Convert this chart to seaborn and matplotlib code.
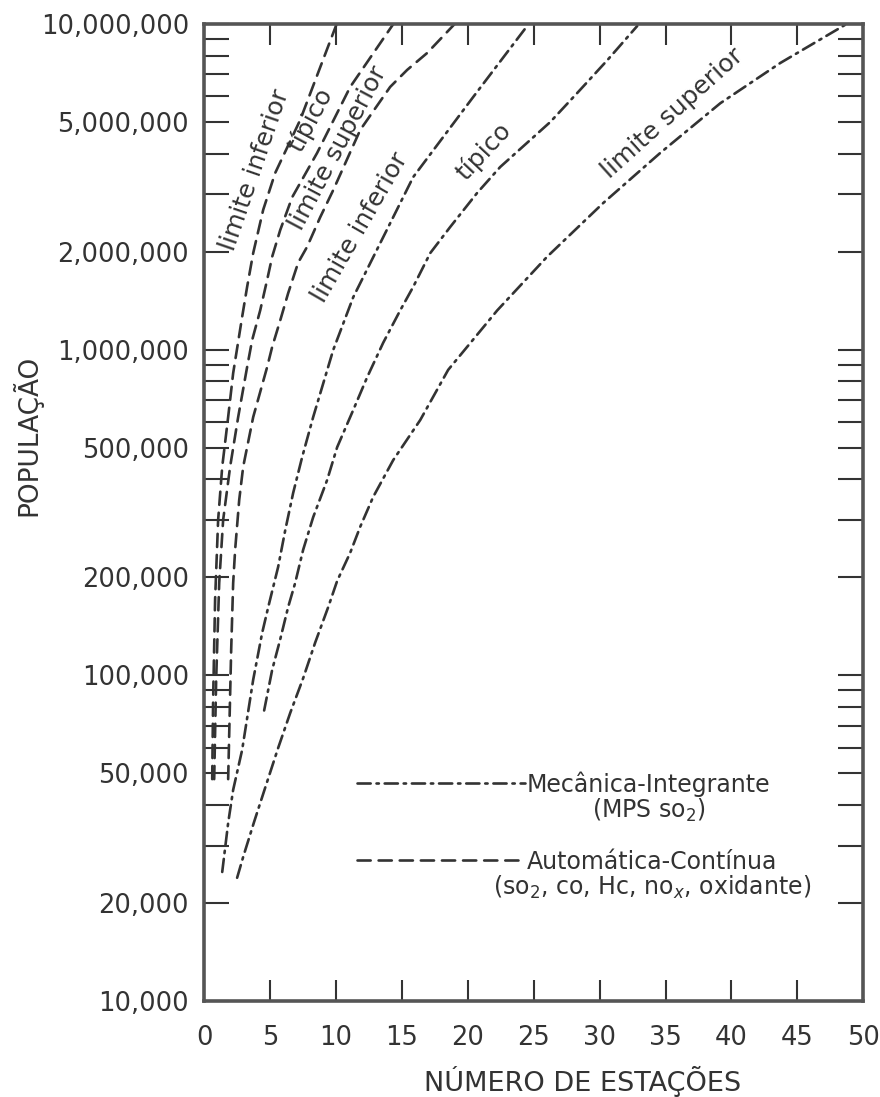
import matplotlib
matplotlib.use("Agg")
import matplotlib.pyplot as plt
import matplotlib.ticker as mticker
from matplotlib.lines import Line2D
import pandas as pd
import seaborn as sns

# Automática-Contínua (tracejado)
auto_inf_n = [0.61, 0.68, 0.83, 1.06, 1.37, 1.82, 2.20, 2.88, 3.26, 3.72, 4.48, 5.39, 7.28, 10.05]
auto_inf_pop = [48000, 84000, 171000, 300000, 437000, 621000, 847000, 1260000, 1560000,
                1980000, 2690000, 3490000, 5070000, 10000000]
auto_tip_n = [0.76, 0.91, 1.14, 1.44, 1.97, 2.58, 3.26, 3.64, 4.25, 4.78, 5.16, 5.77, 6.68,
              8.57, 11.08, 14.35]
auto_tip_pop = [48000, 97000, 192000, 300000, 437000, 621000, 885000, 1070000, 1320000,
                1640000, 1930000, 2330000, 2940000, 4020000, 6410000, 10000000]
auto_sup_n = [1.82, 2.05, 2.20, 2.35, 2.66, 2.96, 3.72, 4.78, 5.16, 5.77, 6.37, 7.13, 7.81,
              8.80, 9.79, 11.84, 14.11, 15.40, 16.92, 19.0]
auto_sup_pop = [48000, 120000, 192000, 243000, 346000, 437000, 621000, 885000, 1020000,
                1230000, 1490000, 1850000, 2070000, 2550000, 3090000, 4730000, 6410000,
                7230000, 8150000, 10000000]

# Mecânica-Integrante (traço-ponto)
mec_inf_n = [1.37, 1.82, 2.20, 2.88, 3.72, 4.40, 4.86, 5.61, 6.15, 6.75, 7.44, 8.27, 9.79,
             11.31, 15.86, 20.41, 24.5]
mec_inf_pop = [24900, 35200, 44500, 59000, 97000, 135000, 162000, 215000, 279000, 363000,
               469000, 621000, 998000, 1450000, 3390000, 5970000, 9860000]
mec_tip_n = [4.55, 5.16, 5.77, 6.37, 6.90, 7.51, 8.27, 9.33, 10.09, 11.31, 12.37, 13.58,
             14.87, 15.86, 17.15, 18.66, 20.71, 22.46, 26.25, 28.30, 30.58, 32.85]
mec_tip_pop = [78000, 104000, 129000, 162000, 192000, 243000, 306000, 398000, 502000, 653000,
               824000, 1050000, 1320000, 1560000, 1980000, 2380000, 3030000, 3640000,
               5000000, 6140000, 7740000, 9860000]
mec_sup_n = [2.50, 2.96, 3.79, 4.70, 5.61, 6.53, 7.51, 8.42, 9.41, 10.09, 11.08, 11.84, 12.82,
             14.34, 16.39, 18.51, 22.23, 26.02, 30.27, 34.60, 39.15, 43.70, 48.6]
mec_sup_pop = [23900, 27700, 35500, 46100, 59800, 76700, 98000, 126000, 162000, 195000,
               238000, 286000, 353000, 458000, 608000, 867000, 1320000, 1930000, 2820000,
               4020000, 5710000, 7590000, 9930000]

# rótulos das curvas
curve_label_texts = ["limite inferior", "típico", "limite superior",
                     "limite inferior", "típico", "limite superior"]
curve_label_n = [3.87, 8.04, 10.17, 11.84, 21.17, 35.51]
curve_label_pop = [3570000, 5070000, 4160000, 2380000, 4050000, 5330000]
curve_label_rot = [71, 62, 62, 60, 47, 42]

y_ticks = [10000, 20000, 50000, 100000, 200000, 500000, 1000000, 2000000, 5000000, 10000000]
y_tick_labels = ["10,000", "20,000", "50,000", "100,000", "200,000", "500,000",
                 "1,000,000", "2,000,000", "5,000,000", "10,000,000"]
x_ticks = [0, 5, 10, 15, 20, 25, 30, 35, 40, 45, 50]

legend_titles = ["Mecânica-Integrante", "Automática-Contínua"]
legend_subtitles = ["(MPS so$_2$)", "(so$_2$, co, Hc, no$_x$, oxidante)"]

curves = [
    ("auto_inf", "automatica", auto_inf_n, auto_inf_pop),
    ("auto_tip", "automatica", auto_tip_n, auto_tip_pop),
    ("auto_sup", "automatica", auto_sup_n, auto_sup_pop),
    ("mec_inf", "mecanica", mec_inf_n, mec_inf_pop),
    ("mec_tip", "mecanica", mec_tip_n, mec_tip_pop),
    ("mec_sup", "mecanica", mec_sup_n, mec_sup_pop),
]
df = pd.concat(
    [pd.DataFrame({"n": n, "pop": p, "curva": c, "tipo": t}) for c, t, n, p in curves],
    ignore_index=True,
)

sns.set_style("white")
plt.rcParams["font.family"] = ["DejaVu Sans"]
INK = "#333333"
STYLES = {"automatica": (0, (5, 3)), "mecanica": (0, (5, 2.2, 0.9, 2.2))}

fig = plt.figure(figsize=(8.8, 10.97), dpi=100)
ax = fig.add_axes([0.232, 0.0875, 0.749, 0.8906])

for (curva, tipo), grp in df.groupby(["curva", "tipo"], sort=False):
    sns.lineplot(data=grp, x="n", y="pop", ax=ax, sort=False, estimator=None,
                 color=INK, linewidth=1.9, linestyle=STYLES[tipo], dash_capstyle="round")

ax.set_yscale("log")
ax.set_xlim(0, 50)
ax.set_ylim(10000, 10000000)

ax.set_yticks(y_ticks)
ax.set_yticklabels(y_tick_labels)
ax.yaxis.set_minor_locator(mticker.LogLocator(base=10, subs=[3, 4, 6, 7, 8, 9]))
ax.yaxis.set_minor_formatter(mticker.NullFormatter())
ax.set_xticks(x_ticks)
ax.set_xticklabels([str(v) for v in x_ticks])

ax.tick_params(axis="y", which="both", direction="in", left=True, right=True,
               length=18, width=1.5, color=INK, labelsize=18.5, pad=11, labelcolor=INK)
ax.tick_params(axis="x", which="major", direction="in", bottom=True, top=True,
               length=15, width=1.5, color=INK, labelsize=18.5, pad=17, labelcolor=INK)

for s in ax.spines.values():
    s.set_linewidth(2.6)
    s.set_color("#555555")

ax.set_ylabel("POPULAÇÃO", fontsize=19, color=INK)
ax.yaxis.set_label_coords(-0.245, 0.579)
ax.set_xlabel("NÚMERO DE ESTAÇÕES", fontsize=19.5, color=INK)
ax.xaxis.set_label_coords(0.574, -0.066)

for txt, n, p, r in zip(curve_label_texts, curve_label_n, curve_label_pop, curve_label_rot):
    ax.text(n, p, txt, rotation=r, rotation_mode="anchor", ha="center", va="center",
            fontsize=18, color=INK)

handles = [
    Line2D([], [], color=INK, lw=1.9, linestyle=STYLES["mecanica"], dash_capstyle="round"),
    Line2D([], [], color=INK, lw=1.9, linestyle=STYLES["automatica"], dash_capstyle="round"),
]
leg = ax.legend(handles, legend_titles, loc="upper left", bbox_to_anchor=(0.232, 0.2354),
                frameon=False, fontsize=17, handlelength=7.1, handletextpad=0.1,
                labelspacing=2.25, borderpad=0, borderaxespad=0)
for t in leg.get_texts():
    t.set_color(INK)
for t, sub in zip(leg.get_texts(), legend_subtitles):
    ax.annotate(sub, xy=(0.5, 0), xycoords=t, ha="center", va="top", fontsize=17,
                color=INK, zorder=6)

fig.savefig("out.png", dpi=100)
